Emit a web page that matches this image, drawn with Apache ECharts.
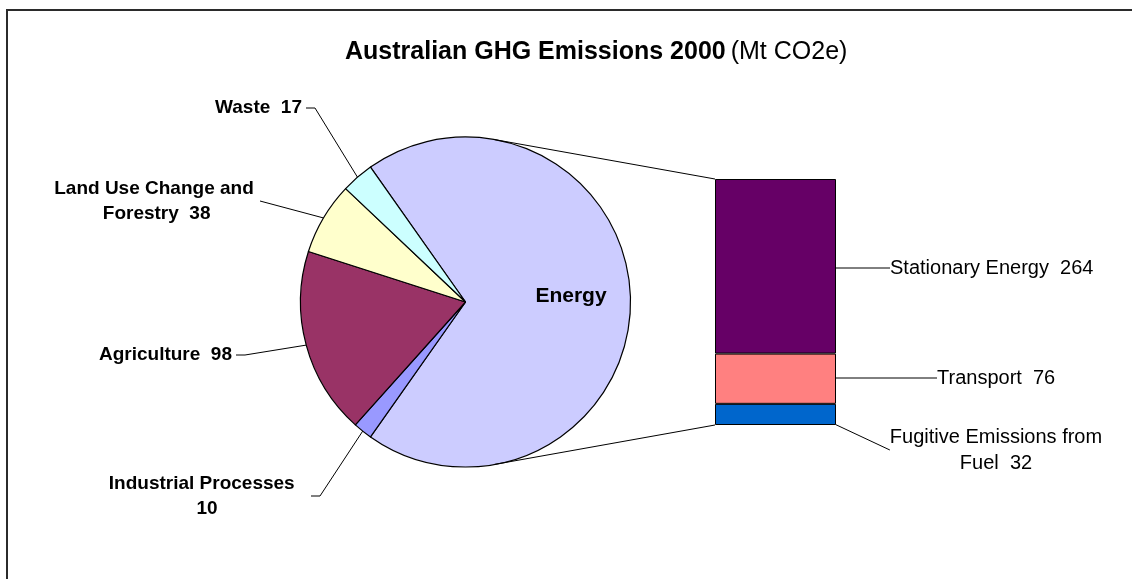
<!DOCTYPE html>
<html>
<head>
<meta charset="utf-8">
<script src="https://cdn.jsdelivr.net/npm/echarts@6/dist/echarts.min.js"></script>
<style>
  html, body { margin: 0; padding: 0; background: #ffffff; }
  #chart { width: 1132px; height: 579px; }
</style>
</head>
<body>
<div id="chart"></div>
<script>
// Australian greenhouse gas emissions in 2000, Mt CO2e.
// The energy sector is shown as one pie slice and broken down in the stacked bar.
const sectorNames  = ['Industrial Processes', 'Agriculture', 'Land Use Change and Forestry', 'Waste'];
const sectorValues = [10, 98, 38, 17];
const energyName   = 'Energy';
const energyNames  = ['Stationary Energy', 'Transport', 'Fugitive Emissions from Fuel'];
const energyValues = [264, 76, 32];

const sectorColors = ['#9999FF', '#993366', '#FFFFCC', '#CCFFFF'];
const energyColor  = '#CCCCFF';
const energyPartColors = ['#660066', '#FF8080', '#0066CC'];

const energyTotal = energyValues.reduce((a, b) => a + b, 0);
const allTotal = energyTotal + sectorValues.reduce((a, b) => a + b, 0);

// layout
const pieCenter = [465.5, 302];
const pieRadius = 165;
const barBox = { left: 715, top: 179, width: 121, height: 246 };
const FONT = '"Liberation Sans", Arial, sans-serif';

const pieLabelPlace = {
  'Energy': { x: 571, y: 296, align: 'center' },
  'Waste': { x: 306, y: 108, align: 'right' },
  'Land Use Change and Forestry': { x: 154, y: 201, align: 'center' },
  'Agriculture': { x: 236, y: 355, align: 'right' },
  'Industrial Processes': { x: 207, y: 496, align: 'center' }
};
const barLabelPlace = [
  { x: 890, y: 268, align: 'left' },
  { x: 937, y: 378, align: 'left' },
  { x: 996, y: 450, align: 'center' }
];
const labelWrap = {
  'Land Use Change and Forestry': 204,
  'Industrial Processes': 200
};
// where a long bar label goes onto a second line
const barLabelBreak = { 'Fugitive Emissions from Fuel': 'Fugitive Emissions from\nFuel' };
const guideTail = { 'Land Use Change and Forestry': 0 };

const pieData = [{
  name: energyName,
  value: energyTotal,
  itemStyle: { color: energyColor },
  label: { position: 'inside', formatter: '{b}', fontSize: 21, padding: 0 },
  labelLine: { show: false }
}].concat(sectorNames.map((n, i) => ({
  name: n,
  value: sectorValues[i],
  itemStyle: { color: sectorColors[i] },
  label: labelWrap[n] ? { width: labelWrap[n], overflow: 'break' } : {},
  labelLine: guideTail[n] != null ? { length2: guideTail[n] } : {}
})));

const lineStyle = { color: '#000000', width: 1 };

// stacked from the bottom: fugitive, transport, stationary
const barSeries = [2, 1, 0].map(k => ({
  type: 'bar',
  name: energyNames[k],
  stack: 'energy',
  barWidth: '100%',
  data: [energyValues[k]],
  itemStyle: { color: energyPartColors[k], borderColor: '#000000', borderWidth: 1 },
  label: {
    show: true,
    position: 'right',
    formatter: p => (barLabelBreak[p.seriesName] || p.seriesName) + '  ' + p.value,
    color: '#000000',
    fontFamily: FONT,
    fontSize: 20,
    lineHeight: 26,
    align: barLabelPlace[k].align
  },
  labelLine: { show: true, length2: 0, minTurnAngle: 0, lineStyle: lineStyle },
  labelLayout: {
    x: barLabelPlace[k].x,
    y: barLabelPlace[k].y,
    align: barLabelPlace[k].align,
    verticalAlign: 'middle'
  },
  silent: true
}));

const chart = echarts.init(document.getElementById('chart'), null, { renderer: 'canvas' });

const option = {
  backgroundColor: '#ffffff',
  animation: false,
  title: {
    left: 340,
    top: 35,
    text: '{b|Australian GHG Emissions 2000} {r|(Mt CO2e)}',
    textStyle: {
      rich: {
        b: { fontFamily: FONT, fontSize: 25, fontWeight: 'bold', color: '#000000' },
        r: { fontFamily: FONT, fontSize: 25, fontWeight: 'normal', color: '#000000' }
      }
    }
  },
  grid: {
    left: barBox.left,
    top: barBox.top,
    width: barBox.width,
    height: barBox.height,
    containLabel: false
  },
  xAxis: { type: 'category', data: [''], show: false },
  yAxis: { type: 'value', min: 0, max: energyTotal, show: false },
  series: [{
    type: 'pie',
    center: pieCenter,
    radius: pieRadius,
    startAngle: 180 * energyTotal / allTotal,
    clockwise: true,
    avoidLabelOverlap: false,
    silent: true,
    data: pieData,
    itemStyle: { borderColor: '#000000', borderWidth: 1.2 },
    label: {
      show: true,
      position: 'outside',
      alignTo: 'none',
      formatter: '{b}  {c}',
      color: '#000000',
      fontFamily: FONT,
      fontWeight: 'bold',
      fontSize: 19,
      lineHeight: 25,
      padding: [0, 4]
    },
    labelLine: { show: true, length: 10, length2: 9, minTurnAngle: 0, lineStyle: lineStyle },
    labelLayout: function (p) {
      const place = pieLabelPlace[pieData[p.dataIndex].name];
      return { x: place.x, y: place.y, align: place.align, verticalAlign: 'middle' };
    }
  }].concat(barSeries)
};

chart.setOption(option);

// connector lines from the energy slice's circle to the corners of the bar
function tangentPoint(px, py, side) {
  const dx = px - pieCenter[0], dy = py - pieCenter[1];
  const d = Math.sqrt(dx * dx + dy * dy);
  const base = Math.atan2(dy, dx);
  const off = Math.acos(pieRadius / d);
  const a = base + side * off;
  return [pieCenter[0] + pieRadius * Math.cos(a), pieCenter[1] + pieRadius * Math.sin(a)];
}
const topCorner = chart.convertToPixel({ gridIndex: 0 }, [0, energyTotal]);
const bottomCorner = chart.convertToPixel({ gridIndex: 0 }, [0, 0]);
const barLeft = barBox.left;
const tTop = tangentPoint(barLeft, topCorner[1], -1);
const tBottom = tangentPoint(barLeft, bottomCorner[1], 1);

chart.setOption({
  graphic: [
    {
      type: 'rect', silent: true, z: 0,
      shape: { x: 7, y: 10, width: 1200, height: 700 },
      style: { fill: 'none', stroke: '#2b2b2b', lineWidth: 2 }
    },
    {
      type: 'line', silent: true, z: 10,
      shape: { x1: tTop[0], y1: tTop[1], x2: barLeft, y2: topCorner[1] },
      style: { stroke: '#000000', lineWidth: 1 }
    },
    {
      type: 'line', silent: true, z: 10,
      shape: { x1: tBottom[0], y1: tBottom[1], x2: barLeft, y2: bottomCorner[1] },
      style: { stroke: '#000000', lineWidth: 1 }
    }
  ]
});
</script>
</body>
</html>
